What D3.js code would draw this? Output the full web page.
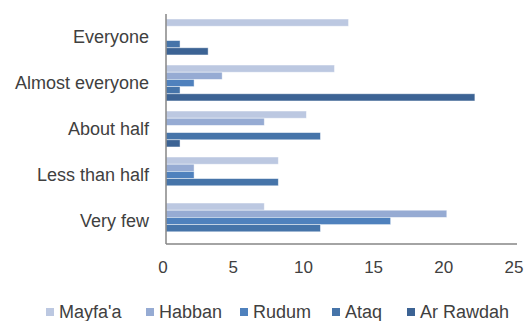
<!DOCTYPE html>
<html>
<head>
<meta charset="utf-8">
<script src="https://cdn.jsdelivr.net/npm/d3@7"></script>
<style>
  html, body { margin: 0; padding: 0; background: #fff; }
  svg { display: block; font-family: "Liberation Sans", Arial, sans-serif; }
</style>
</head>
<body>
<svg id="chart" width="528" height="321"></svg>
<script>
// Categories from top to bottom
const categories = ["Everyone", "Almost everyone", "About half", "Less than half", "Very few"];
const seriesNames = ["Mayfa'a", "Habban", "Rudum", "Ataq", "Ar Rawdah"];
const seriesColors = ["#bcc8e1", "#96abd3", "#4f81bd", "#4674a9", "#3c6394"];

// One array of counts per district, in category order
const mayfaa   = [13, 12, 10, 8, 7];
const habban   = [0, 4, 7, 2, 20];
const rudum    = [0, 2, 0, 2, 16];
const ataq     = [1, 1, 11, 8, 11];
const arRawdah = [3, 22, 1, 0, 0];
const seriesValues = [mayfaa, habban, rudum, ataq, arRawdah];

const xTicks = [0, 5, 10, 15, 20, 25];

const svg = d3.select("#chart");
const plot = { left: 166, right: 517, top: 14, bottom: 244 };
const textColor = "#404040";
const axisColor = "#868686";

const x = d3.scaleLinear().domain([0, 25]).range([plot.left, plot.right]);
const y0 = d3.scaleBand().domain(categories).range([plot.top, plot.bottom]).padding(0);
const y1 = d3.scaleBand().domain(seriesNames).range([0, y0.bandwidth()])
  .paddingInner(0).paddingOuter(0.7);

// Bars
const rows = [];
categories.forEach((c, ci) => {
  seriesNames.forEach((s, si) => {
    rows.push({ cat: c, series: s, value: seriesValues[si][ci], color: seriesColors[si] });
  });
});

svg.append("g").selectAll("rect")
  .data(rows.filter(d => d.value > 0))
  .join("rect")
  .attr("x", x(0))
  .attr("y", d => y0(d.cat) + y1(d.series))
  .attr("width", d => x(d.value) - x(0))
  .attr("height", y1.bandwidth())
  .attr("fill", d => d.color)
  .attr("stroke", "rgba(255,255,255,0.55)")
  .attr("stroke-width", 0.8);

// Axis lines
svg.append("line")
  .attr("x1", plot.left).attr("x2", plot.left)
  .attr("y1", plot.top).attr("y2", plot.bottom)
  .attr("stroke", axisColor).attr("stroke-width", 1.5);
svg.append("line")
  .attr("x1", plot.left).attr("x2", plot.right)
  .attr("y1", plot.bottom).attr("y2", plot.bottom)
  .attr("stroke", axisColor).attr("stroke-width", 1.5);

// Category labels
svg.append("g").selectAll("text")
  .data(categories)
  .join("text")
  .attr("x", 149)
  .attr("y", d => y0(d) + y0.bandwidth() / 2)
  .attr("dy", "0.33em")
  .attr("text-anchor", "end")
  .attr("font-size", 18)
  .attr("fill", textColor)
  .text(d => d);

// Value axis labels
svg.append("g").selectAll("text")
  .data(xTicks)
  .join("text")
  .attr("x", d => x(d) - 3)
  .attr("y", 273)
  .attr("text-anchor", "middle")
  .attr("font-size", 17)
  .attr("fill", textColor)
  .text(d => d);

// Legend
const legendX = [46, 146, 240, 332, 407];
const legend = svg.append("g").selectAll("g")
  .data(seriesNames)
  .join("g")
  .attr("transform", (d, i) => `translate(${legendX[i]},0)`);
legend.append("rect")
  .attr("x", 0).attr("y", 308)
  .attr("width", 8).attr("height", 8)
  .attr("fill", (d, i) => seriesColors[i]);
legend.append("text")
  .attr("x", 13).attr("y", 318)
  .attr("font-size", 18)
  .attr("fill", textColor)
  .text(d => d);
</script>
</body>
</html>
